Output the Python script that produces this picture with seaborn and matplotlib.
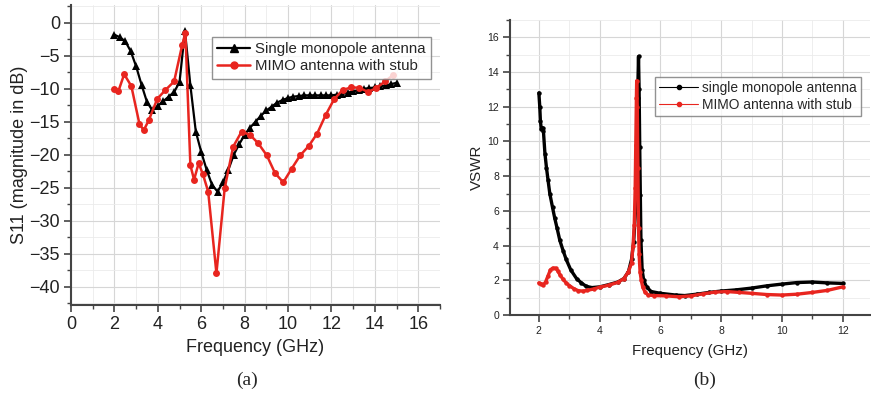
import matplotlib
matplotlib.use('Agg')
import matplotlib.pyplot as plt
import numpy as np
import pandas as pd
import seaborn as sns
from matplotlib.lines import Line2D
from matplotlib.ticker import MultipleLocator

sns.set_theme(style='whitegrid')
plt.rcParams['font.family'] = ['Liberation Sans', 'DejaVu Sans']

# (a) S11 vs frequency
s11_single_f = [2.0, 2.25, 2.5, 2.75, 3.0, 3.25, 3.5, 3.75, 4.0, 4.25, 4.5, 4.75,
                5.0, 5.25, 5.5, 5.75, 6.0, 6.25, 6.5, 6.75, 7.0, 7.25, 7.5, 7.75,
                8.0, 8.25, 8.5, 8.75, 9.0, 9.25, 9.5, 9.75, 10.0, 10.25, 10.5, 10.75,
                11.0, 11.25, 11.5, 11.75, 12.0, 12.25, 12.5, 12.75, 13.0, 13.25,
                13.5, 13.75, 14.0, 14.25, 14.5, 14.75, 15.0]
s11_single_db = [-1.8, -2.2, -2.8, -4.3, -6.6, -9.4, -12.0, -13.3, -12.6, -11.9, -11.2, -10.5,
                 -9.0, -1.2, -9.5, -16.5, -19.6, -22.3, -24.6, -25.6, -24.2, -22.3, -20.0, -18.4,
                 -17.0, -15.9, -15.0, -14.1, -13.3, -12.7, -12.1, -11.7, -11.4, -11.2, -11.1, -11.0,
                 -11.0, -11.0, -11.0, -11.0, -11.0, -10.9, -10.8, -10.6, -10.4, -10.2,
                 -10.0, -9.9, -9.8, -9.6, -9.5, -9.3, -9.1]

s11_mimo_f = [2.0, 2.18, 2.45, 2.78, 3.15, 3.35, 3.58, 3.98, 4.35, 4.75, 5.12, 5.27,
              5.5, 5.67, 5.88, 6.08, 6.32, 6.7, 7.08, 7.47, 7.86, 8.25, 8.63, 9.02,
              9.4, 9.78, 10.17, 10.56, 10.95, 11.34, 11.73, 12.12, 12.51, 12.9, 13.29,
              13.68, 14.07, 14.46, 14.85]
s11_mimo_db = [-10.1, -10.4, -7.8, -9.6, -15.3, -16.3, -14.8, -11.5, -10.2, -8.9, -3.4, -1.5,
               -21.6, -23.8, -21.3, -23.0, -25.6, -38.0, -25.1, -18.8, -16.5, -17.0, -18.3, -20.1,
               -22.8, -24.2, -22.1, -20.1, -18.7, -16.8, -14.0, -11.6, -10.2, -9.8, -9.85,
               -10.5, -9.9, -8.9, -7.9]

# (b) VSWR vs frequency
vswr_single_f = [2.0, 2.03, 2.05, 2.08, 2.12, 2.15, 2.2, 2.25, 2.3, 2.36, 2.45, 2.52, 2.6,
                 2.69, 2.8, 2.9, 3.05, 3.24, 3.4, 3.56, 3.75, 4.0, 4.3, 4.6, 4.8, 4.95,
                 5.05, 5.12, 5.18, 5.22, 5.25, 5.28, 5.3, 5.32, 5.34, 5.36, 5.4, 5.45,
                 5.55, 5.7, 6.0, 6.5, 6.8, 7.2, 7.6, 8.0, 8.5, 9.0, 9.5, 10.0, 10.5,
                 11.0, 11.5, 12.0]
vswr_single = [12.8, 12.0, 11.2, 10.7, 10.8, 10.6, 9.3, 8.5, 7.8, 7.0, 6.2, 5.6, 5.0,
               4.3, 3.7, 3.2, 2.6, 2.1, 1.85, 1.65, 1.58, 1.62, 1.75, 1.9, 2.1, 2.5,
               3.2, 4.2, 6.0, 9.0, 12.5, 14.9, 13.0, 9.7, 6.9, 4.3, 2.6, 2.0,
               1.6, 1.35, 1.25, 1.15, 1.12, 1.2, 1.3, 1.38, 1.45, 1.55, 1.68, 1.78, 1.87,
               1.9, 1.85, 1.82]

vswr_mimo_f = [2.0, 2.08, 2.15, 2.22, 2.3, 2.38, 2.45, 2.55, 2.62, 2.7, 2.8, 2.9, 3.0,
               3.15, 3.3, 3.45, 3.6, 3.8, 4.0, 4.3, 4.6, 4.8, 4.95, 5.05, 5.1, 5.14,
               5.17, 5.19, 5.21, 5.22, 5.24, 5.26, 5.28, 5.3, 5.33, 5.37, 5.42, 5.5,
               5.6, 5.8, 6.2, 6.6, 7.0, 7.4, 7.8, 8.2, 8.6, 9.0, 9.5, 10.0, 10.5,
               11.0, 11.5, 12.0]
vswr_mimo = [1.85, 1.8, 1.75, 1.9, 2.25, 2.6, 2.7, 2.7, 2.55, 2.3, 2.05, 1.85, 1.7,
             1.52, 1.4, 1.38, 1.42, 1.5, 1.6, 1.72, 1.88, 2.1, 2.5, 3.0, 4.0, 5.2,
             7.3, 9.8, 12.5, 13.5, 12.0, 8.5, 5.0, 3.5, 2.5, 2.0, 1.6, 1.3,
             1.15, 1.12, 1.1, 1.05, 1.1, 1.22, 1.32, 1.35, 1.3, 1.25, 1.18, 1.15, 1.2,
             1.3, 1.42, 1.62]

single_label_a = 'Single monopole antenna'
mimo_label = 'MIMO antenna with stub'
single_label_b = 'single monopole antenna'

red = '#e8251f'
grid_major = '#d6d6d6'
grid_minor = '#ebebeb'
spine_col = '#444444'


def style_axes(ax, tick_size):
    for side in ['top', 'right']:
        ax.spines[side].set_visible(False)
    for side in ['left', 'bottom']:
        ax.spines[side].set_color(spine_col)
        ax.spines[side].set_linewidth(1.5)
    ax.grid(True, which='major', color=grid_major, lw=0.8)
    ax.grid(True, which='minor', color=grid_minor, lw=0.6)
    ax.set_axisbelow(True)
    ax.tick_params(which='major', direction='out', length=5, width=1.2,
                   color=spine_col, labelsize=tick_size, labelcolor='#222222',
                   left=True, bottom=True, pad=3)
    ax.tick_params(which='minor', direction='out', length=3, width=1.0,
                   color=spine_col, left=True, bottom=True)


fig = plt.figure(figsize=(8.71, 3.93), dpi=100)
ax1 = fig.add_axes([71 / 871, 1 - 305 / 393, 369 / 871, 300 / 393])
ax2 = fig.add_axes([510 / 871, 1 - 315 / 393, 360 / 871, 295 / 393])

# ---- (a) ----
sns.lineplot(x=s11_single_f, y=s11_single_db, ax=ax1, color='black', lw=1.6,
             marker='^', markersize=6, markeredgewidth=0, sort=False)
sns.lineplot(x=s11_mimo_f, y=s11_mimo_db, ax=ax1, color=red, lw=1.8,
             marker='o', markersize=5, markeredgewidth=0, sort=False)
ax1.set_xlim(0, 17)
ax1.set_ylim(-42.8, 2.7)
ax1.xaxis.set_major_locator(MultipleLocator(2))
ax1.xaxis.set_minor_locator(MultipleLocator(1))
ax1.yaxis.set_major_locator(MultipleLocator(5))
ax1.yaxis.set_minor_locator(MultipleLocator(2.5))
style_axes(ax1, 13)
ax1.set_xlabel('Frequency (GHz)', fontsize=13, labelpad=4, color='#222222')
ax1.set_ylabel('S11 (magnitude in dB)', fontsize=13, labelpad=1, color='#222222')
h_a = [Line2D([], [], color='black', lw=1.6, marker='^', markersize=6),
       Line2D([], [], color=red, lw=1.8, marker='o', markersize=5)]
leg1 = ax1.legend(h_a, [single_label_a, mimo_label], loc='upper right',
                  bbox_to_anchor=(0.995, 0.92), fontsize=10.8, frameon=True,
                  fancybox=False, edgecolor='#777777', handlelength=2.2,
                  borderpad=0.35, labelspacing=0.25, handletextpad=0.3)
leg1.get_frame().set_linewidth(1.0)

# ---- (b) ----
sns.lineplot(x=vswr_single_f, y=vswr_single, ax=ax2, color='black', lw=2.4,
             marker='o', markersize=3.2, markeredgewidth=0, sort=False)
sns.lineplot(x=vswr_mimo_f, y=vswr_mimo, ax=ax2, color=red, lw=2.4,
             marker='o', markersize=3.2, markeredgewidth=0, sort=False)
ax2.set_xlim(1.05, 12.9)
ax2.set_ylim(0, 17)
ax2.xaxis.set_major_locator(MultipleLocator(2))
ax2.xaxis.set_minor_locator(MultipleLocator(1))
ax2.yaxis.set_major_locator(MultipleLocator(2))
ax2.yaxis.set_minor_locator(MultipleLocator(1))
style_axes(ax2, 7.5)
ax2.set_xlabel('Frequency (GHz)', fontsize=10.9, labelpad=6, color='#222222')
ax2.set_ylabel('VSWR', fontsize=10.9, labelpad=2, color='#222222')
h_b = [Line2D([], [], color='black', lw=0.8, marker='o', markersize=3),
       Line2D([], [], color=red, lw=0.8, marker='o', markersize=3)]
leg2 = ax2.legend(h_b, [single_label_b, mimo_label], loc='upper right',
                  bbox_to_anchor=(0.994, 0.83), fontsize=9.9, frameon=True,
                  fancybox=False, edgecolor='#777777', handlelength=2.8,
                  borderpad=0.3, labelspacing=0.2, handletextpad=0.3)
leg2.get_frame().set_linewidth(1.0)

fig.text(247 / 871, 1 - 380 / 393, '(a)', ha='center', va='center',
         fontsize=14, family=['Liberation Serif', 'DejaVu Serif'])
fig.text(705 / 871, 1 - 380 / 393, '(b)', ha='center', va='center',
         fontsize=14, family=['Liberation Serif', 'DejaVu Serif'])

fig.savefig('out.png', dpi=100)
